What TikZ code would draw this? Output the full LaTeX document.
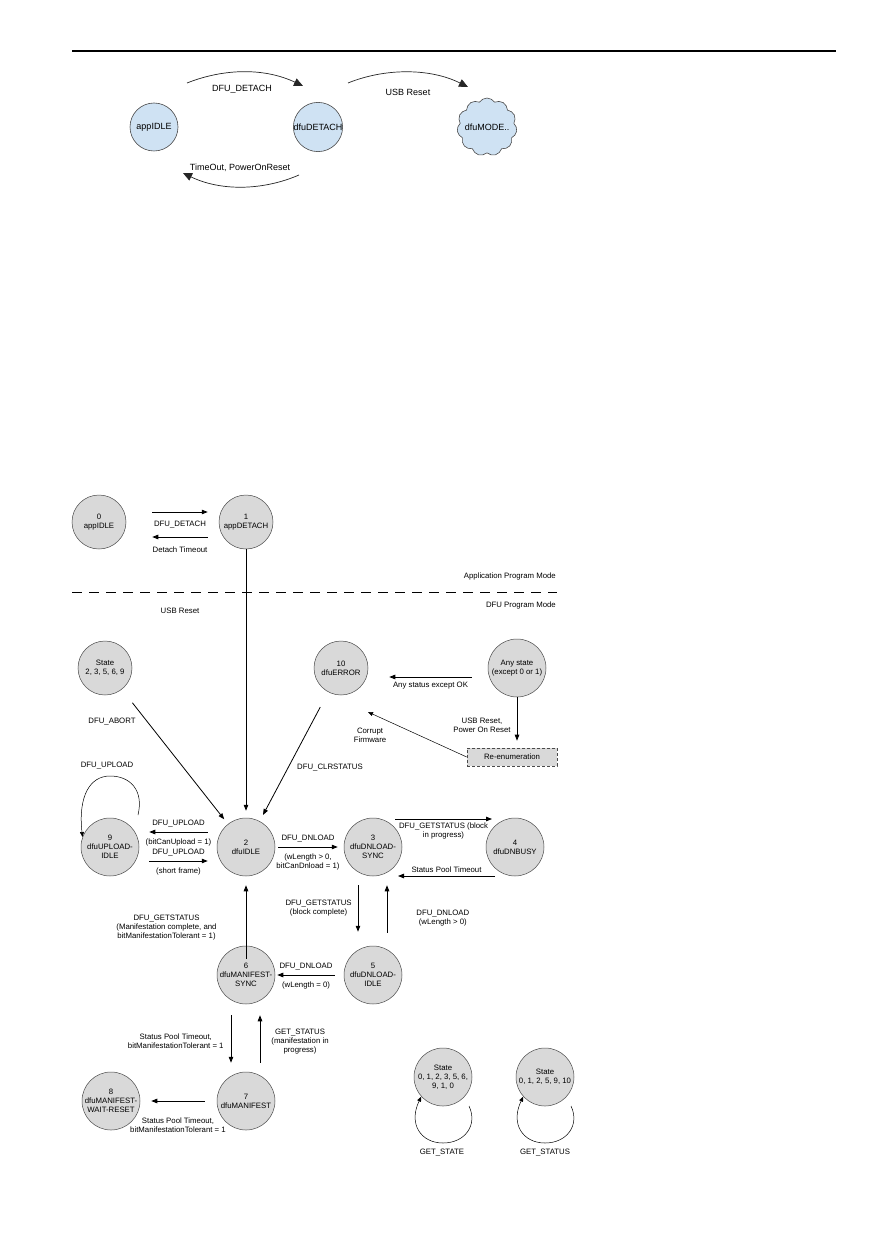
\documentclass[tikz,border=0pt]{standalone}
\usepackage{fontspec}
\setmainfont{Liberation Sans}
\usetikzlibrary{arrows.meta,shapes.symbols,calc}
\definecolor{lblue}{HTML}{CFE2F3}
\definecolor{sgray}{HTML}{D9D9D9}
\definecolor{bord}{HTML}{4A4A4A}
\begin{document}
\begin{tikzpicture}[x=1pt,y=-1pt,
  topc/.style={circle, draw=bord, fill=lblue, line width=0.6pt, minimum size=48pt, inner sep=0pt, font=\fontsize{9}{11}\selectfont},
  st/.style={circle, draw=bord, fill=sgray, line width=0.5pt, minimum size=58pt, inner sep=0pt, align=center, font=\fontsize{7.8}{9}\selectfont},
  sts/.style={st, minimum size=54pt},
  arr/.style={-{Triangle[length=6pt,width=4.5pt]}, line width=0.8pt},
  thinarr/.style={-{Triangle[length=5pt,width=4pt]}, line width=0.5pt},
  tarr/.style={-{Triangle[length=9pt,width=8pt]}, line width=0.7pt, draw=black!85},
  lbl/.style={font=\fontsize{7.8}{9}\selectfont, align=center, inner sep=1pt},
  la/.style={lbl, above=4pt},
  lb/.style={lbl, below=5pt},
  tlbl/.style={font=\fontsize{9}{11}\selectfont, inner sep=0pt},
]
\useasboundingbox (0,0) rectangle (893,1233);
\fill[white] (0,0) rectangle (893,1233);

% ---------- top diagram ----------
\draw[line width=1.1pt] (72,51) -- (836,51);

\node[topc] (aI) at (154,127) {appIDLE};
\node[topc] (dD) at (318,127) {dfuDETACH};
\node[cloud, cloud puffs=11, cloud puff arc=115, aspect=1, draw=bord, fill=lblue, line width=0.6pt,
      minimum width=60pt, minimum height=58pt, inner sep=0pt,
      label={[tlbl]center:dfuMODE..}] (dM) at (487,127) {};

\coordinate (a1s) at (187,83);
\coordinate (a1e) at (303,86);
\draw[tarr] (a1s) .. controls (225,68) and (265,68) .. (a1e);
\node[tlbl] (l1) at (242,89) {DFU\_DETACH};

\coordinate (b1s) at (348,83);
\coordinate (b1e) at (468,87);
\draw[tarr] (b1s) .. controls (385,68) and (430,68) .. (b1e);
\node[tlbl] (l2) at (408,92) {USB Reset};

\coordinate (c1s) at (299,175);
\coordinate (c1e) at (183,173);
\draw[tarr] (c1s) .. controls (262,191) and (220,191) .. (c1e);
\node[tlbl] (l3) at (240,168) {TimeOut, PowerOnReset};

% ---------- lower diagram ----------
\node[sts] (s0) at (99,522) {0\\appIDLE};
\node[sts] (s1) at (246,522) {1\\appDETACH};

\draw[arr] ([xshift=26pt,yshift=10pt]s0.east) -- node[lb, below=3pt]{DFU\_DETACH} ([xshift=-11pt,yshift=10pt]s1.west);
\draw[arr] ([xshift=-11pt,yshift=-15pt]s1.west) -- node[lb, below=3pt]{Detach Timeout} ([xshift=26pt,yshift=-15pt]s0.east);

\draw[dash pattern=on 10pt off 7pt, line width=0.7pt] (72,592) -- (557,592);
\node[lbl, anchor=east] (apm) at (557,576) {Application Program Mode};
\node[lbl, anchor=east] (dpm) at (557,605) {DFU Program Mode};

\node[sts] (s2) at (105,668) {State\\2, 3, 5, 6, 9};
\node[sts] (err) at (341,668) {10\\dfuERROR};
\node[st] (any) at (517,668) {Any state\\(except 0 or 1)};
\node[draw=bord, fill=sgray, dash pattern=on 3pt off 2pt, line width=0.6pt, minimum width=90pt, minimum height=18pt,
      inner sep=0pt, font=\fontsize{7.8}{9}\selectfont] (reen) at (512,757) {Re-enumeration};

\node[st] (n9) at (110,847) {9\\dfuUPLOAD-\\IDLE};
\node[st] (n2) at (246,847) {2\\dfuIDLE};
\node[st] (n3) at (373,847) {3\\dfuDNLOAD-\\SYNC};
\node[st] (n4) at (515,847) {4\\dfuDNBUSY};
\node[st] (n5) at (373,975) {5\\dfuDNLOAD-\\IDLE};
\node[st] (n6) at (246,975) {6\\dfuMANIFEST-\\SYNC};
\node[st] (n7) at (246,1101) {7\\dfuMANIFEST};
\node[st] (n8) at (111,1101) {8\\dfuMANIFEST-\\WAIT-RESET};
\node[st] (g1) at (443,1077) {State\\0, 1, 2, 3, 5, 6,\\9, 1, 0};
\node[st] (g2) at (545,1077) {State\\0, 1, 2, 5, 9, 10};

% USB reset into DFU mode
\draw[arr, shorten >=7pt] (s1) -- (n2);
\node[lbl] (usbr) at (180,611) {USB Reset};

% error related
\draw[arr] ([xshift=-16pt,yshift=-9pt]any.west) -- node[lbl, below=4pt]{Any status except OK} ([xshift=21pt,yshift=-9pt]err.east);
\draw[arr, shorten >=7pt] (any.south) -- node[lbl, left=5pt, pos=0.55]{USB Reset,\\Power On Reset} (any.south |- reen.north);
\draw[thinarr] (reen.west) -- ([xshift=27pt,yshift=-44pt]err.center);
\node[lbl] (cf) at (370,735) {Corrupt\\Firmware};

\draw[arr, shorten <=17pt, shorten >=6pt] (s2) -- (n2);
\node[lbl] (abort) at (112,722) {DFU\_ABORT};
\draw[arr, shorten <=17pt, shorten >=7pt] (err) -- (n2);
\node[lbl] (clr) at (330,768) {DFU\_CLRSTATUS};

% upload loop
\coordinate (l9s) at (138,815);
\draw[thinarr] (l9s) .. controls (144,790) and (130,776) .. (110,776) .. controls (90,776) and (78,796) .. (n9.160);
\node[lbl] (upl) at (107,766) {DFU\_UPLOAD};

% 9 <-> 2
\draw[arr] ([xshift=-9pt,yshift=15pt]n2.west) -- node[la]{DFU\_UPLOAD} node[lb]{(bitCanUpload = 1)} ([xshift=10pt,yshift=15pt]n9.east);
\draw[arr] ([xshift=10pt,yshift=-14pt]n9.east) -- node[la]{DFU\_UPLOAD} node[lb]{(short frame)} ([xshift=-9pt,yshift=-14pt]n2.west);

% 2 -> 3
\draw[arr] ([xshift=3pt]n2.east) -- node[la]{DFU\_DNLOAD} node[lb]{(wLength > 0,\\bitCanDnload = 1)} ([xshift=-6pt]n3.west);

% 3 <-> 4
\draw[arr] ([xshift=22pt,yshift=28pt]n3.center) -- node[lbl, below=2pt]{DFU\_GETSTATUS (block\\in progress)} ([xshift=-23pt,yshift=28pt]n4.center);
\draw[arr] ([xshift=-20pt,yshift=-29pt]n4.center) -- node[lbl, above=2pt]{Status Pool Timeout} ([xshift=25pt,yshift=-29pt]n3.center);

% 3 <-> 5
\draw[arr] ([xshift=-15pt,yshift=-9pt]n3.south) -- node[lbl, left=5pt]{DFU\_GETSTATUS\\(block complete)} ([xshift=-15pt,yshift=14pt]n5.north);
\draw[arr] ([xshift=14pt,yshift=13pt]n5.north) -- node[lbl, right=28pt, pos=0.3]{DFU\_DNLOAD\\(wLength > 0)} ([xshift=14pt,yshift=-9pt]n3.south);

% 5 -> 6
\draw[arr] ([xshift=-9pt]n5.west) -- node[la]{DFU\_DNLOAD} node[lb]{(wLength = 0)} ([xshift=2pt]n6.east);

% 6 -> 2
\draw[arr] ([yshift=-13pt]n6.north) -- node[lbl, left=28pt, pos=0.42]{DFU\_GETSTATUS\\(Manifestation complete, and\\bitManifestationTolerant = 1)} ([yshift=-9pt]n2.south);

% 6 <-> 7
\draw[arr] ([xshift=-15pt,yshift=-11pt]n6.south) -- node[lbl, left=6pt, pos=0.55]{Status Pool Timeout,\\bitManifestationTolerant = 1} ([xshift=-15pt,yshift=9pt]n7.north);
\draw[arr] ([xshift=14pt,yshift=9pt]n7.north) -- node[lbl, right=10pt, pos=0.45]{GET\_STATUS\\(manifestation in\\progress)} ([xshift=14pt,yshift=-11pt]n6.south);

% 7 -> 8
\draw[arr] ([xshift=-12pt]n7.west) -- node[lbl, below=15pt]{Status Pool Timeout,\\bitManifestationTolerant = 1} ([xshift=11pt]n8.east);

% GET_STATE / GET_STATUS loops
\coordinate (g1s) at (469,1106);
\draw[thinarr] (g1s) .. controls (478,1125) and (465,1143) .. (443,1143) .. controls (421,1143) and (408,1124) .. (g1.222);
\node[lbl] (gs1) at (442,1153) {GET\_STATE};
\coordinate (g2s) at (571,1106);
\draw[thinarr] (g2s) .. controls (580,1125) and (567,1143) .. (545,1143) .. controls (523,1143) and (510,1124) .. (g2.222);
\node[lbl] (gs2) at (545,1153) {GET\_STATUS};
\end{tikzpicture}
\end{document}
